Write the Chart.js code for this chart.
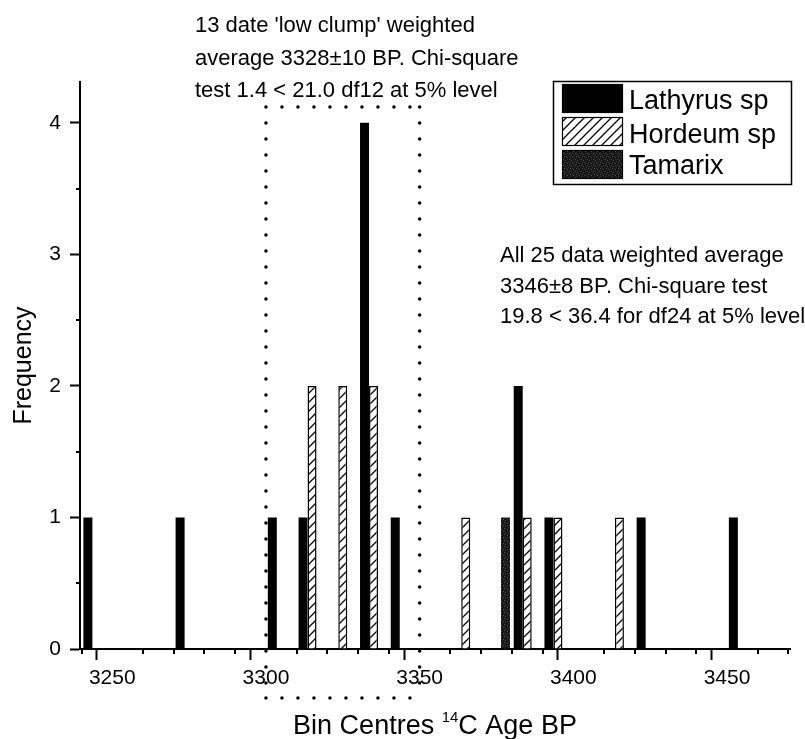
<!DOCTYPE html>
<html>
<head>
<meta charset="utf-8">
<script src="https://cdn.jsdelivr.net/npm/chart.js@4.4.1/dist/chart.umd.min.js"></script>
<style>
  html, body { margin: 0; padding: 0; background: #fff; }
  #wrap { width: 805px; height: 739px; position: relative; }
</style>
</head>
<body>
<div id="wrap"><canvas id="histChart"></canvas></div>
<script>
// bin centres (14C age BP) and counts per taxon
const lathyrusBins = [3245, 3275, 3305, 3315, 3335, 3345, 3385, 3395, 3425, 3455];
const lathyrusCounts = [1, 1, 1, 1, 4, 1, 2, 1, 1, 1];
const hordeumBins = [3315, 3325, 3335, 3365, 3385, 3395, 3415];
const hordeumCounts = [2, 2, 2, 1, 1, 1, 1];
const tamarixBins = [3375];
const tamarixCounts = [1];

const xTickLabels = [3250, 3300, 3350, 3400, 3450];
const yTickLabels = [0, 1, 2, 3, 4];
const clumpRange = [3300, 3350];

const clumpNote = ["13 date 'low clump' weighted", 'average 3328\u00b110 BP. Chi-square', 'test 1.4 < 21.0 df12 at 5% level'];
const allNote = ['All 25 data weighted average', '3346\u00b18 BP. Chi-square test', '19.8 < 36.4 for df24 at 5% level'];

const FONT = '"Liberation Sans", Arial, sans-serif';

document.addEventListener('DOMContentLoaded', () => {
    const canvas = document.getElementById('histChart');
    const mainCtx = canvas.getContext('2d');

    // diagonal hatch for Hordeum
    const hc = document.createElement('canvas');
    hc.width = 9; hc.height = 9;
    const hg = hc.getContext('2d');
    hg.fillStyle = '#fff';
    hg.fillRect(0, 0, 9, 9);
    hg.strokeStyle = '#000';
    hg.lineWidth = 1.3;
    hg.beginPath();
    hg.moveTo(-1, 10); hg.lineTo(10, -1);
    hg.moveTo(-2, 2); hg.lineTo(2, -2);
    hg.moveTo(7, 11); hg.lineTo(11, 7);
    hg.stroke();
    const hatch = mainCtx.createPattern(hc, 'repeat');

    // dark stipple for Tamarix
    const sc = document.createElement('canvas');
    sc.width = 6; sc.height = 6;
    const sg = sc.getContext('2d');
    sg.fillStyle = '#151515';
    sg.fillRect(0, 0, 6, 6);
    sg.fillStyle = '#555';
    [[0, 0], [3, 1], [5, 3], [1, 4]].forEach(([px, py]) => sg.fillRect(px, py, 1, 1));
    sg.fillStyle = '#333';
    [[2, 0], [0, 2], [4, 5], [3, 3]].forEach(([px, py]) => sg.fillRect(px, py, 1, 1));
    const stipple = mainCtx.createPattern(sc, 'repeat');

    const toPoints = (bins, counts) => bins.map((b, i) => ({ x: b, y: counts[i] }));

    const decorations = {
        id: 'decorations',
        afterDraw(chart) {
            const ctx = chart.ctx;
            const xs = chart.scales.x;
            const ys = chart.scales.y;
            const area = chart.chartArea;
            ctx.save();

            // minor ticks
            ctx.strokeStyle = '#000';
            ctx.lineWidth = 2;
            ctx.beginPath();
            xs.ticks.forEach(t => {
                if (xTickLabels.includes(t.value)) return;
                const px = Math.round(xs.getPixelForValue(t.value));
                ctx.moveTo(px, area.bottom);
                ctx.lineTo(px, area.bottom + 5);
            });
            ys.ticks.forEach(t => {
                if (yTickLabels.includes(t.value)) return;
                const py = Math.round(ys.getPixelForValue(t.value));
                ctx.moveTo(area.left, py);
                ctx.lineTo(area.left - 4, py);
            });
            ctx.stroke();

            // dotted 'low clump' box
            const bx0 = xs.getPixelForValue(clumpRange[0]);
            const bx1 = xs.getPixelForValue(clumpRange[1]);
            const by0 = ys.getPixelForValue(4.12);
            const by1 = area.bottom + 49;
            ctx.lineWidth = 3.5;
            ctx.lineCap = 'round';
            ctx.setLineDash([0, 16]);
            ctx.beginPath();
            ctx.moveTo(bx0, by0); ctx.lineTo(bx1, by0);
            ctx.moveTo(bx0, by0); ctx.lineTo(bx0, by1);
            ctx.moveTo(bx0, by1); ctx.lineTo(bx1 - 6, by1);
            ctx.moveTo(bx1, by0); ctx.lineTo(bx1, by1 - 6);
            ctx.stroke();
            ctx.setLineDash([]);
            ctx.lineCap = 'butt';

            // notes
            ctx.fillStyle = '#000';
            ctx.textAlign = 'left';
            ctx.textBaseline = 'alphabetic';
            ctx.font = '22px ' + FONT;
            clumpNote.forEach((s, i) => ctx.fillText(s, 195, 32 + i * 32.5));
            allNote.forEach((s, i) => ctx.fillText(s, 500, 262 + i * 30.5));

            // legend
            ctx.lineWidth = 1.5;
            ctx.strokeStyle = '#000';
            ctx.strokeRect(553.5, 81.5, 238, 103);
            const rows = [84, 117, 150];
            const baselines = [109, 143, 174];
            ctx.font = '27px ' + FONT;
            chart.data.datasets.forEach((ds, i) => {
                ctx.fillStyle = ds.backgroundColor;
                ctx.fillRect(562, rows[i], 61, 29);
                ctx.lineWidth = 1.2;
                ctx.strokeRect(562.5, rows[i] + 0.5, 60, 28);
                ctx.fillStyle = '#000';
                ctx.fillText(ds.label, 629, baselines[i]);
            });

            // axis titles
            ctx.font = '27px ' + FONT;
            const part1 = 'Bin Centres ';
            const part2 = '14';
            const part3 = 'C Age BP';
            const w1 = ctx.measureText(part1).width;
            const w3 = ctx.measureText(part3).width;
            ctx.font = '15px ' + FONT;
            const w2 = ctx.measureText(part2).width;
            let tx = (area.left + area.right) / 2 - (w1 + w2 + w3) / 2;
            ctx.font = '27px ' + FONT;
            ctx.fillText(part1, tx, 734);
            tx += w1;
            ctx.font = '15px ' + FONT;
            ctx.fillText(part2, tx, 722);
            tx += w2;
            ctx.font = '27px ' + FONT;
            ctx.fillText(part3, tx, 734);

            ctx.translate(31, (area.top + area.bottom) / 2);
            ctx.rotate(-Math.PI / 2);
            ctx.textAlign = 'center';
            ctx.font = '25px ' + FONT;
            ctx.fillText('Frequency', 0, 0);
            ctx.restore();
        }
    };

    // fixed thickness: grouped bars sit side by side inside each bin
    const barOpts = { barThickness: 9, grouped: true, inflateAmount: 0 };

    new Chart(canvas, {
        type: 'bar',
        data: {
            datasets: [
                Object.assign({ label: 'Lathyrus sp', data: toPoints(lathyrusBins, lathyrusCounts), backgroundColor: '#000', borderWidth: 0 }, barOpts),
                Object.assign({ label: 'Hordeum sp', data: toPoints(hordeumBins, hordeumCounts), backgroundColor: hatch, borderColor: '#000', borderWidth: 1.5 }, barOpts),
                Object.assign({ label: 'Tamarix', data: toPoints(tamarixBins, tamarixCounts), backgroundColor: stipple, borderWidth: 0 }, barOpts),
            ]
        },
        options: {
            responsive: true,
            maintainAspectRatio: false,
            animation: false,
            layout: { padding: { top: 82, right: 15, left: 0, bottom: 0 } },
            plugins: { legend: { display: false }, tooltip: { enabled: false } },
            scales: {
                x: {
                    type: 'linear',
                    min: 3239.5,
                    max: 3470.5,
                    offset: false,
                    afterFit: s => { s.height = 90; },
                    border: { color: '#000', width: 2 },
                    grid: {
                        drawOnChartArea: false,
                        tickLength: 11,
                        tickWidth: 2,
                        tickColor: c => (c.tick && xTickLabels.includes(c.tick.value)) ? '#000' : 'rgba(0,0,0,0)'
                    },
                    ticks: {
                        stepSize: 10,
                        autoSkip: false,
                        maxRotation: 0,
                        includeBounds: false,
                        padding: 6,
                        color: '#000',
                        font: { family: FONT, size: 21 },
                        callback: v => xTickLabels.includes(v) ? String(v) : ''
                    }
                },
                y: {
                    min: 0,
                    max: 4.31,
                    afterFit: s => { s.width = 80; },
                    border: { color: '#000', width: 2 },
                    grid: {
                        drawOnChartArea: false,
                        tickLength: 10,
                        tickWidth: 2,
                        tickColor: c => (c.tick && yTickLabels.includes(c.tick.value)) ? '#000' : 'rgba(0,0,0,0)'
                    },
                    ticks: {
                        stepSize: 0.5,
                        autoSkip: false,
                        includeBounds: false,
                        padding: 9,
                        color: '#000',
                        font: { family: FONT, size: 21 },
                        callback: v => yTickLabels.includes(v) ? String(v) : ''
                    }
                }
            }
        },
        plugins: [decorations]
    });
});
</script>
</body>
</html>
